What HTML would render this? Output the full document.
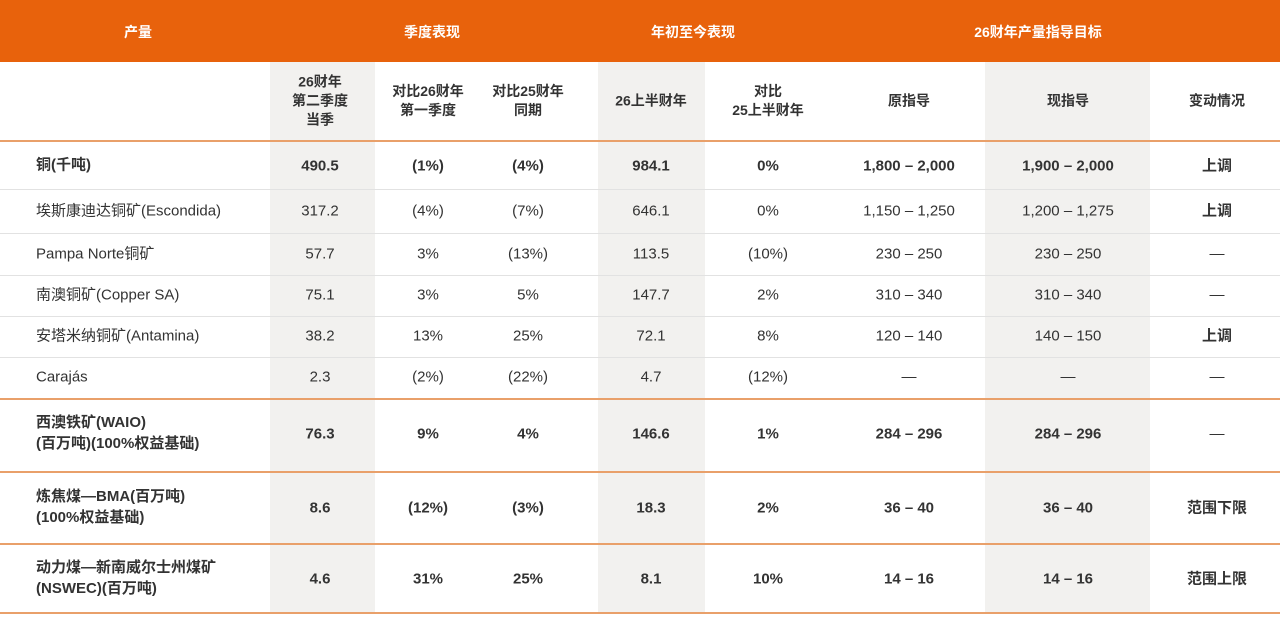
<!DOCTYPE html><html><head><meta charset="utf-8"><style>
body{margin:0;width:1280px;height:633px;background:#fff;font-family:"Liberation Sans","Noto Sans CJK SC",sans-serif;color:#333;position:relative;overflow:hidden}
.a{position:absolute}
.h{top:0;height:62px;left:0;width:1280px;background:#e8620c}
.ht{color:#fff;font-weight:bold;font-size:14px;top:22px;transform:translateX(-50%);white-space:nowrap}
.sh{background:#f2f1ef;top:62px;height:550px}
.ln{left:0;width:1280px;height:1px}
.o{background:#e9a06a;height:1.5px}.g{background:#e2e2e2}
.c{transform:translate(-50%,-50%);text-align:center;font-size:15px;white-space:nowrap;line-height:19px}
.l{transform:translateY(-50%);font-size:15px;left:36px;line-height:21px;white-space:nowrap}
.b{font-weight:bold}
.sub{font-size:14px;font-weight:bold;line-height:19px}
</style></head><body>
<div class="a h"></div>
<div class="a ht" style="left:138px">产量</div>
<div class="a ht" style="left:432px">季度表现</div>
<div class="a ht" style="left:693px">年初至今表现</div>
<div class="a ht" style="left:1038px">26财年产量指导目标</div>
<div class="a sh" style="left:270px;width:105px"></div>
<div class="a sh" style="left:598px;width:107px"></div>
<div class="a sh" style="left:985px;width:165px"></div>
<div class="a ln o" style="top:140px"></div>
<div class="a ln g" style="top:189px"></div>
<div class="a ln g" style="top:233px"></div>
<div class="a ln g" style="top:275px"></div>
<div class="a ln g" style="top:316px"></div>
<div class="a ln g" style="top:357px"></div>
<div class="a ln o" style="top:398px"></div>
<div class="a ln o" style="top:471px"></div>
<div class="a ln o" style="top:543px"></div>
<div class="a ln o" style="top:612px"></div>
<div class="a c sub" style="left:320px;top:101px">26财年<br>第二季度<br>当季</div>
<div class="a c sub" style="left:428px;top:101px">对比26财年<br>第一季度</div>
<div class="a c sub" style="left:528px;top:101px">对比25财年<br>同期</div>
<div class="a c sub" style="left:651px;top:101px">26上半财年</div>
<div class="a c sub" style="left:768px;top:101px">对比<br>25上半财年</div>
<div class="a c sub" style="left:909px;top:101px">原指导</div>
<div class="a c sub" style="left:1068px;top:101px">现指导</div>
<div class="a c sub" style="left:1217px;top:101px">变动情况</div>
<script>
const rows=[
[165,"铜(千吨)",1,["490.5","(1%)","(4%)","984.1","0%","1,800 – 2,000","1,900 – 2,000","上调"]],
[211,"埃斯康迪达铜矿(Escondida)",0,["317.2","(4%)","(7%)","646.1","0%","1,150 – 1,250","1,200 – 1,275","<b>上调</b>"]],
[254,"Pampa Norte铜矿",0,["57.7","3%","(13%)","113.5","(10%)","230 – 250","230 – 250","—"]],
[295,"南澳铜矿(Copper SA)",0,["75.1","3%","5%","147.7","2%","310 – 340","310 – 340","—"]],
[336,"安塔米纳铜矿(Antamina)",0,["38.2","13%","25%","72.1","8%","120 – 140","140 – 150","<b>上调</b>"]],
[377,"Carajás",0,["2.3","(2%)","(22%)","4.7","(12%)","—","—","—"]],
[433,"西澳铁矿(WAIO)<br>(百万吨)(100%权益基础)",1,["76.3","9%","4%","146.6","1%","284 – 296","284 – 296","<span style='font-weight:normal'>—</span>"]],
[507,"炼焦煤—BMA(百万吨)<br>(100%权益基础)",1,["8.6","(12%)","(3%)","18.3","2%","36 – 40","36 – 40","范围下限"]],
[578,"动力煤—新南威尔士州煤矿<br>(NSWEC)(百万吨)",1,["4.6","31%","25%","8.1","10%","14 – 16","14 – 16","范围上限"]]];
const xs=[320,428,528,651,768,909,1068,1217];
let h="";
for(const r of rows){h+=`<div class="a l${r[2]?' b':''}" style="top:${r[0]}px">${r[1]}</div>`;
r[3].forEach((t,i)=>{h+=`<div class="a c${r[2]?' b':''}" style="left:${xs[i]}px;top:${r[0]+(r[2]?1:0)}px">${t}</div>`});}
document.body.insertAdjacentHTML("beforeend",h);
</script>
</body></html>
